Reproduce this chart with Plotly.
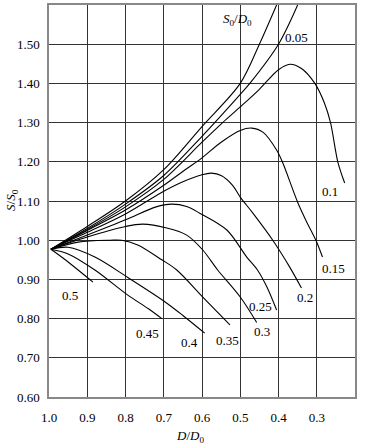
import plotly.graph_objects as go

# Data (x = D/D0, y = S/S0)
x_000 = [0.995, 0.9, 0.8, 0.7, 0.6, 0.5, 0.45, 0.405]
y_000 = [0.977, 1.035, 1.10, 1.18, 1.29, 1.40, 1.50, 1.60]

x_005 = [0.995, 0.9, 0.8, 0.7, 0.6, 0.5, 0.475, 0.40, 0.35]
y_005 = [0.977, 1.03, 1.092, 1.165, 1.265, 1.372, 1.40, 1.50, 1.60]

x_010 = [0.995, 0.9, 0.8, 0.7, 0.6, 0.546, 0.5, 0.45, 0.40, 0.37, 0.34, 0.305, 0.28, 0.264, 0.245, 0.227]
y_010 = [0.977, 1.027, 1.085, 1.155, 1.25, 1.30, 1.34, 1.385, 1.435, 1.449, 1.438, 1.40, 1.35, 1.30, 1.20, 1.146]

x_015 = [0.995, 0.9, 0.8, 0.7, 0.645, 0.6, 0.55, 0.5, 0.47, 0.44, 0.405, 0.39, 0.35, 0.326, 0.30, 0.285]
y_015 = [0.977, 1.025, 1.077, 1.14, 1.179, 1.21, 1.25, 1.28, 1.286, 1.275, 1.23, 1.20, 1.097, 1.046, 0.995, 0.957]

x_020 = [0.995, 0.9, 0.8, 0.7, 0.653, 0.6, 0.575, 0.55, 0.52, 0.50, 0.467, 0.415, 0.371, 0.34]
y_020 = [0.977, 1.02, 1.067, 1.125, 1.148, 1.167, 1.171, 1.165, 1.14, 1.11, 1.069, 1.0, 0.932, 0.878]

x_025 = [0.995, 0.9, 0.8, 0.72, 0.68, 0.64, 0.606, 0.535, 0.483, 0.455, 0.43, 0.405]
y_025 = [0.977, 1.013, 1.052, 1.085, 1.092, 1.086, 1.069, 1.026, 0.957, 0.924, 0.88, 0.822]

x_030 = [0.995, 0.9, 0.8, 0.755, 0.692, 0.64, 0.598, 0.559, 0.50, 0.457]
y_030 = [0.977, 1.008, 1.035, 1.041, 1.031, 1.013, 0.975, 0.924, 0.855, 0.79]

x_035 = [0.995, 0.924, 0.84, 0.81, 0.768, 0.705, 0.666, 0.598, 0.527]
y_035 = [0.977, 0.995, 1.0, 1.0, 0.988, 0.95, 0.924, 0.855, 0.784]

x_040 = [0.995, 0.95, 0.88, 0.794, 0.70, 0.65, 0.593]
y_040 = [0.977, 0.982, 0.957, 0.905, 0.845, 0.808, 0.763]

x_045 = [0.995, 0.95, 0.88, 0.794, 0.74, 0.705]
y_045 = [0.977, 0.965, 0.924, 0.86, 0.825, 0.80]

x_050 = [0.995, 0.96, 0.885]
y_050 = [0.977, 0.952, 0.893]

curve_labels = ["", "0.05", "0.1", "0.15", "0.2", "0.25", "0.3", "0.35", "0.4", "0.45", "0.5"]
x_ticks = [1.0, 0.9, 0.8, 0.7, 0.6, 0.5, 0.4, 0.3]
y_ticks = [0.6, 0.7, 0.8, 0.9, 1.0, 1.1, 1.2, 1.3, 1.4, 1.5]

series = [(x_000, y_000), (x_005, y_005), (x_010, y_010), (x_015, y_015),
          (x_020, y_020), (x_025, y_025), (x_030, y_030), (x_035, y_035),
          (x_040, y_040), (x_045, y_045), (x_050, y_050)]

# label positions (data coords)
label_pos = [None, (0.352, 1.516), (0.266, 1.123), (0.256, 0.929), (0.332, 0.853),
             (0.446, 0.830), (0.444, 0.766), (0.533, 0.745), (0.632, 0.738),
             (0.742, 0.763), (0.945, 0.858)]

FONT = "Liberation Serif"

fig = go.Figure()
for (xs, ys), name in zip(series, curve_labels):
    fig.add_trace(go.Scatter(x=xs, y=ys, mode="lines", name=name or "S0/D0",
                             line=dict(color="black", width=1.1, shape="spline", smoothing=0.9),
                             showlegend=False, hoverinfo="skip"))

for name, pos in zip(curve_labels, label_pos):
    if pos is None:
        continue
    fig.add_annotation(x=pos[0], y=pos[1], text=name, showarrow=False,
                       font=dict(family=FONT, size=13, color="black"),
                       xanchor="center", yanchor="middle")

fig.add_annotation(x=0.507, y=1.562, text="<i>S</i><sub>0</sub>/<i>D</i><sub>0</sub>",
                   showarrow=False, font=dict(family=FONT, size=13, color="black"),
                   xanchor="center", yanchor="middle")

# axis titles as annotations in paper coordinates
fig.add_annotation(x=-0.121, y=0.5026, xref="paper", yref="paper",
                   text="<i>S</i>/<i>S</i><sub>0</sub>", textangle=-90, showarrow=False,
                   font=dict(family=FONT, size=13, color="black"),
                   xanchor="center", yanchor="middle")
fig.add_annotation(x=0.461, y=-0.102, xref="paper", yref="paper",
                   text="<i>D</i>/<i>D</i><sub>0</sub>", showarrow=False,
                   font=dict(family=FONT, size=13, color="black"),
                   xanchor="center", yanchor="middle")

fig.update_layout(
    width=366, height=446,
    margin=dict(l=49, r=11, t=5, b=49),
    paper_bgcolor="white", plot_bgcolor="white",
    font=dict(family=FONT, size=13, color="black"),
    xaxis=dict(range=[1.0, 0.2], tickvals=x_ticks, tickformat=".1f",
               showgrid=True, gridcolor="#333", gridwidth=1,
               showline=True, linecolor="#888", linewidth=1.5, mirror=True,
               zeroline=False, ticks="", ticklabelstandoff=8, automargin=False,
               tickfont=dict(family=FONT, size=13, color="black")),
    yaxis=dict(range=[0.6, 1.6], tickvals=y_ticks, tickformat=".2f",
               showgrid=True, gridcolor="#333", gridwidth=1,
               showline=True, linecolor="#888", linewidth=1.5, mirror=True,
               zeroline=False, ticks="", ticklabelstandoff=5, automargin=False,
               tickfont=dict(family=FONT, size=13, color="black")),
)

fig.write_html("out.html", config={"displayModeBar": False},
               post_script="document.body.style.margin='0';document.body.style.overflow='hidden';")
